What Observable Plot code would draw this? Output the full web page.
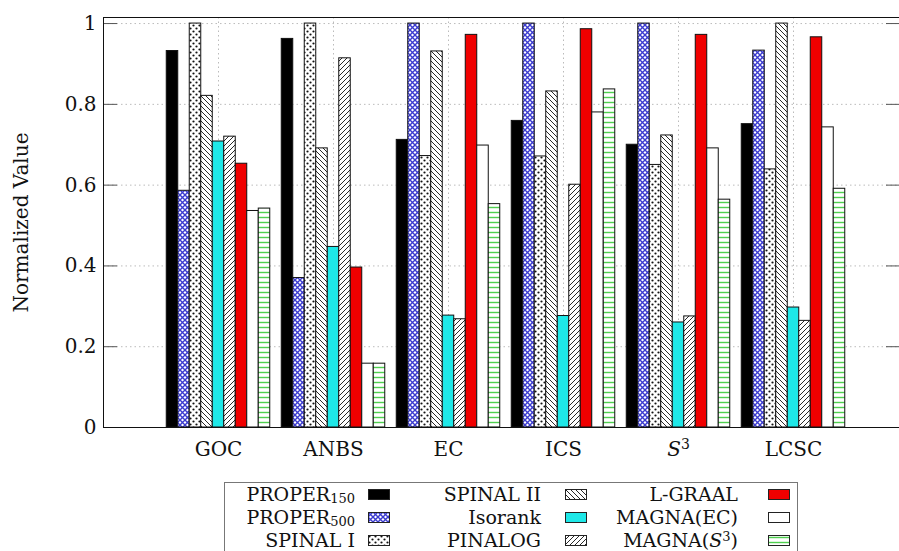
<!DOCTYPE html>
<html><head><meta charset="utf-8">
<script src="https://cdn.jsdelivr.net/npm/d3@7"></script>
<script src="https://cdn.jsdelivr.net/npm/@observablehq/plot@0.6"></script>
<style>
html,body{margin:0;padding:0;background:#fff;overflow:hidden}
body{width:899px;height:551px;position:relative;font-family:"DejaVu Serif",serif;}
#chart{position:absolute;left:0;top:0}
#legend{position:absolute;left:224px;top:482px;width:574px;height:90px;border:1px solid #777;box-sizing:border-box;background:#fff}
.lab{position:absolute;height:21px;line-height:21px;font-size:19px;color:#111;white-space:nowrap;text-align:right}
.lab sub{font-size:13px;vertical-align:-2px;line-height:0}
.lab sup{font-size:13px;vertical-align:6px;line-height:0}
.sw{position:absolute;width:22px;height:11px}
</style></head><body>
<svg width="0" height="0" style="position:absolute"><defs>
<pattern id="p-blue" patternUnits="userSpaceOnUse" width="5" height="5"><rect width="5" height="5" fill="#fff"/><path d="M0,0L5,5M5,0L0,5" stroke="#3b3bd0" stroke-width="1.4"/></pattern>
<pattern id="p-dots" patternUnits="userSpaceOnUse" width="6" height="6"><rect width="6" height="6" fill="#fff"/><circle cx="1.5" cy="1.5" r="1.1" fill="#111"/><circle cx="4.5" cy="4.5" r="1.1" fill="#111"/></pattern>
<pattern id="p-back" patternUnits="userSpaceOnUse" width="5" height="5"><rect width="5" height="5" fill="#fff"/><path d="M0,0L5,5M-1,4L1,6M4,-1L6,1" stroke="#111" stroke-width="0.9"/></pattern>
<pattern id="p-fwd" patternUnits="userSpaceOnUse" width="5" height="5"><rect width="5" height="5" fill="#fff"/><path d="M0,5L5,0M-1,1L1,-1M4,6L6,4" stroke="#111" stroke-width="0.9"/></pattern>
<pattern id="p-green" patternUnits="userSpaceOnUse" width="4" height="5"><rect width="4" height="5" fill="#fff"/><path d="M0,2.5H4" stroke="#4fd04f" stroke-width="1.4"/></pattern>
</defs></svg>
<div id="chart"></div>
<div id="legend"></div>
<script>
const groups = ["GOC", "ANBS", "EC", "ICS", "S3", "LCSC"];
const series = ["PROPER150", "PROPER500", "SPINAL I", "SPINAL II", "Isorank", "PINALOG", "L-GRAAL", "MAGNA(EC)", "MAGNA(S3)"];
const legendLabels = ["PROPER<sub>150</sub>", "PROPER<sub>500</sub>", "SPINAL I", "SPINAL II", "Isorank", "PINALOG", "L-GRAAL", "MAGNA(EC)", "MAGNA(<i>S</i><sup>3</sup>)"];

const proper150 = [0.932, 0.962, 0.712, 0.759, 0.700, 0.751];
const proper500 = [0.586, 0.370, 1.000, 1.000, 1.000, 0.933];
const spinal1   = [1.000, 1.000, 0.672, 0.671, 0.650, 0.639];
const spinal2   = [0.821, 0.691, 0.931, 0.832, 0.723, 1.000];
const isorank   = [0.708, 0.447, 0.277, 0.276, 0.260, 0.297];
const pinalog   = [0.720, 0.914, 0.268, 0.601, 0.275, 0.264];
const lgraal    = [0.653, 0.396, 0.972, 0.986, 0.972, 0.966];
const magnaEC   = [0.536, 0.158, 0.698, 0.780, 0.691, 0.743];
const magnaS3   = [0.542, 0.158, 0.553, 0.837, 0.564, 0.591];
const values = [proper150, proper500, spinal1, spinal2, isorank, pinalog, lgraal, magnaEC, magnaS3];

const fills = ["#000000", "url(#p-blue)", "url(#p-dots)", "url(#p-back)", "#1ee8e8", "url(#p-fwd)", "#f00000", "#ffffff", "url(#p-green)"];
const yTicks = [0, 0.2, 0.4, 0.6, 0.8, 1];
const groupTicks = groups.map((g, i) => i + 1);

const data = [];
series.forEach((s, si) => groups.forEach((g, gi) => data.push({series: s, si, gi, group: g, value: values[si][gi]})));

const barW = 0.1;
const x1 = d => d.gi + 1 + (d.si - 4.5) * barW;
const x2 = d => d.gi + 1 + (d.si - 3.5) * barW;

const svg = Plot.plot({
  width: 899, height: 470,
  marginLeft: 103, marginRight: 0, marginTop: 17, marginBottom: 43,
  style: {fontFamily: '"DejaVu Serif", serif', fontSize: "20px", color: "#111", background: "transparent", overflow: "visible"},
  x: {type: "linear", domain: [0, 796 / 115], axis: null},
  y: {domain: [0, 1.015], axis: null},
  color: {type: "ordinal", domain: series, range: fills},
  marks: [
    Plot.gridY(yTicks, {stroke: "#bbb", strokeOpacity: 1, strokeDasharray: "1.5,3"}),
    Plot.gridX(groupTicks, {stroke: "#bbb", strokeOpacity: 1, strokeDasharray: "1.5,3"}),
    Plot.rectY(data, {x1, x2, y1: 0, y2: "value", fill: "series", stroke: "#111", strokeWidth: 1}),
    Plot.axisY(yTicks, {anchor: "left", tickSize: 14, dx: 14, tickFormat: () => "", label: null, stroke: "#555"}),
    Plot.axisY(yTicks, {anchor: "right", tickSize: 14, dx: -14, tickFormat: () => "", label: null, stroke: "#555"}),
    Plot.axisY(yTicks, {anchor: "left", tickSize: 0, tickPadding: 7, tickFormat: d => String(d), label: "Normalized Value", labelArrow: "none", labelAnchor: "center", labelOffset: 90}),
    Plot.axisX(groupTicks, {tickSize: 0, tickPadding: 14, tickFormat: t => groups[t - 1], label: null}),
    Plot.frame({anchor: "top", stroke: "#111"}),
    Plot.frame({anchor: "bottom", stroke: "#111"}),
    Plot.frame({anchor: "left", stroke: "#111"})
  ]
});
document.getElementById("chart").append(svg);

for (const t of svg.querySelectorAll("text")) {
  if (t.textContent.startsWith("Normalized Value") && t.textContent !== "Normalized Value") t.textContent = "Normalized Value";
}

// italic S with superscript 3 on the x tick label
const ns = "http://www.w3.org/2000/svg";
for (const t of svg.querySelectorAll("text")) {
  if (t.textContent === "S3") {
    t.textContent = "";
    const a = document.createElementNS(ns, "tspan");
    a.setAttribute("font-style", "italic"); a.textContent = "S";
    const b = document.createElementNS(ns, "tspan");
    b.setAttribute("dy", "-0.45em"); b.setAttribute("font-size", "14px"); b.textContent = "3";
    t.append(a, b);
  }
}

// legend
const legend = document.getElementById("legend");
const colRight = [130, 316, 513];
const swLeft = [143, 340, 543];
const rowCenter = [11, 34, 57];
series.forEach((s, i) => {
  const c = Math.floor(i / 3), r = i % 3;
  const lab = document.createElement("div");
  lab.className = "lab";
  lab.innerHTML = legendLabels[i];
  lab.style.right = (574 - 2 - colRight[c]) + "px";
  lab.style.top = (rowCenter[r] - 10) + "px";
  legend.append(lab);
  const sw = document.createElementNS(ns, "svg");
  sw.setAttribute("class", "sw");
  sw.setAttribute("width", 22); sw.setAttribute("height", 11);
  sw.style.left = swLeft[c] + "px";
  sw.style.top = (rowCenter[r] - 5) + "px";
  const rect = document.createElementNS(ns, "rect");
  rect.setAttribute("x", 0.5); rect.setAttribute("y", 0.5);
  rect.setAttribute("width", 21); rect.setAttribute("height", 10);
  rect.setAttribute("fill", fills[i]); rect.setAttribute("stroke", "#222");
  sw.append(rect);
  legend.append(sw);
});
</script></body></html>
